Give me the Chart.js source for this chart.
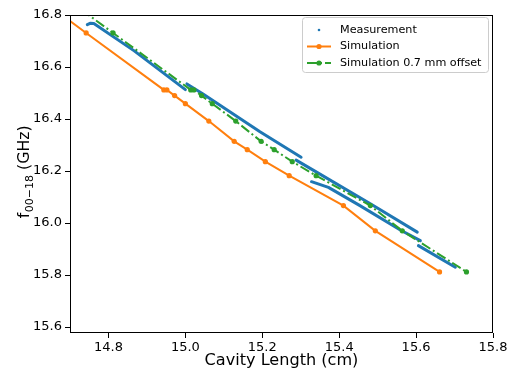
<!DOCTYPE html>
<html>
<head>
<meta charset="utf-8">
<script src="https://cdn.jsdelivr.net/npm/chart.js@4.4.1/dist/chart.umd.min.js"></script>
<style>
html,body{margin:0;padding:0;background:#fff;}
#wrap{width:516px;height:375px;position:relative;}
</style>
</head>
<body>
<div id="wrap"><canvas id="c" width="516" height="375"></canvas></div>
<script>
// ---- data ----
const xTicks = [14.8, 15.0, 15.2, 15.4, 15.6, 15.8];
const yTicks = [15.6, 15.8, 16.0, 16.2, 16.4, 16.6, 16.8];

// Simulation (cm, GHz)
const simX = [14.66, 14.742, 14.944, 14.952, 14.972, 15.000, 15.061, 15.127, 15.161, 15.208, 15.270, 15.411, 15.494, 15.661];
const simY = [16.82, 16.731, 16.512, 16.512, 16.490, 16.459, 16.392, 16.314, 16.282, 16.236, 16.182, 16.067, 15.970, 15.812];

// Simulation with 0.7 mm offset
const offX = [14.73, 14.812, 15.014, 15.022, 15.042, 15.070, 15.131, 15.197, 15.231, 15.278, 15.340, 15.481, 15.564, 15.731];
const offY = [16.82, 16.731, 16.512, 16.512, 16.490, 16.459, 16.392, 16.314, 16.282, 16.236, 16.182, 16.067, 15.970, 15.812];

// Measurement traces (null separates sweeps)
const measX = [14.745, 14.752, 14.762, 14.867, 15.000, null,
               15.004, 15.046, 15.194, 15.301, null,
               15.288, 15.350, 15.480, 15.603, null,
               15.328, 15.372, 15.454, 15.559, 15.611, null,
               15.606, 15.702];
const measY = [16.763, 16.768, 16.767, 16.662, 16.513, null,
               16.535, 16.496, 16.351, 16.253, null,
               16.242, 16.188, 16.075, 15.965, null,
               16.159, 16.137, 16.067, 15.973, 15.932, null,
               15.913, 15.830];

const C_BLUE = '#1f77b4', C_ORANGE = '#ff7f0e', C_GREEN = '#2ca02c';
const FONT = "'DejaVu Sans', sans-serif";
const DASHDOT = [10, 3, 2, 3];

function pts(xs, ys) {
  return xs.map((x, i) => (x === null ? {x: NaN, y: null} : {x: x, y: ys[i]}));
}

const legendItems = [
  {label: 'Measurement', color: C_BLUE, line: false, dash: null, r: 1.3},
  {label: 'Simulation', color: C_ORANGE, line: true, dash: [], r: 2.6},
  {label: 'Simulation 0.7 mm offset', color: C_GREEN, line: true, dash: DASHDOT, r: 2.6}
];

const decor = {
  id: 'decor',
  afterDraw(chart) {
    const ctx = chart.ctx;
    const a = chart.chartArea;
    ctx.save();
    // spines
    ctx.strokeStyle = '#000';
    ctx.lineWidth = 1;
    ctx.setLineDash([]);
    ctx.strokeRect(Math.round(a.left) + 0.5, Math.round(a.top) + 0.5,
                   Math.round(a.right) - Math.round(a.left) - 1, Math.round(a.bottom) - Math.round(a.top) - 1);

    // x title
    ctx.fillStyle = '#000';
    ctx.font = '16.1px ' + FONT;
    ctx.textAlign = 'center';
    ctx.textBaseline = 'alphabetic';
    ctx.fillText('Cavity Length (cm)', (a.left + a.right) / 2, 365);

    // y title with subscript
    ctx.save();
    ctx.translate(29, (a.top + a.bottom) / 2 - 2);
    ctx.rotate(-Math.PI / 2);
    ctx.textAlign = 'left';
    const mainF = '15.8px ' + FONT, subF = '11px ' + FONT;
    ctx.font = mainF; const w1 = ctx.measureText('f').width;
    ctx.font = subF; const w2 = ctx.measureText('00\u221218').width;
    ctx.font = mainF; const w3 = ctx.measureText(' (GHz)').width;
    let x0 = -(w1 + w2 + w3) / 2;
    ctx.font = mainF; ctx.fillText('f', x0, 0);
    ctx.font = subF; ctx.fillText('00\u221218', x0 + w1 + 0.5, 3.6);
    ctx.font = mainF; ctx.fillText(' (GHz)', x0 + w1 + w2 + 0.5, 0);
    ctx.restore();

    // legend
    const bx = 302.5, by = 17.5, bw = 186, bh = 55, rr = 3;
    ctx.beginPath();
    ctx.moveTo(bx + rr, by);
    ctx.lineTo(bx + bw - rr, by); ctx.arcTo(bx + bw, by, bx + bw, by + rr, rr);
    ctx.lineTo(bx + bw, by + bh - rr); ctx.arcTo(bx + bw, by + bh, bx + bw - rr, by + bh, rr);
    ctx.lineTo(bx + rr, by + bh); ctx.arcTo(bx, by + bh, bx, by + bh - rr, rr);
    ctx.lineTo(bx, by + rr); ctx.arcTo(bx, by, bx + rr, by, rr);
    ctx.closePath();
    ctx.fillStyle = 'rgba(255,255,255,0.8)';
    ctx.fill();
    ctx.strokeStyle = '#cccccc';
    ctx.lineWidth = 1;
    ctx.stroke();

    const rowsY = [30, 46.5, 63];
    legendItems.forEach((it, i) => {
      const y = rowsY[i];
      if (it.line) {
        ctx.beginPath();
        ctx.setLineDash(it.dash);
        ctx.strokeStyle = it.color;
        ctx.lineWidth = 2;
        ctx.moveTo(307, y); ctx.lineTo(331, y);
        ctx.stroke();
        ctx.setLineDash([]);
      }
      ctx.beginPath();
      ctx.fillStyle = it.color;
      ctx.arc(319, y, it.r, 0, Math.PI * 2);
      ctx.fill();
      ctx.fillStyle = '#000';
      ctx.font = '11.2px ' + FONT;
      ctx.textAlign = 'left';
      ctx.textBaseline = 'middle';
      ctx.fillText(it.label, 340, y);
    });
    ctx.restore();
  }
};

new Chart(document.getElementById('c'), {
  type: 'line',
  data: {
    datasets: [
      {
        label: 'Simulation 0.7 mm offset',
        data: pts(offX, offY),
        borderColor: C_GREEN, backgroundColor: C_GREEN,
        borderWidth: 2, borderDash: DASHDOT,
        pointRadius: 2.6, pointHoverRadius: 2.6, pointBorderWidth: 0,
        tension: 0, order: 0, clip: 0
      },
      {
        label: 'Simulation',
        data: pts(simX, simY),
        borderColor: C_ORANGE, backgroundColor: C_ORANGE,
        borderWidth: 2,
        pointRadius: 2.6, pointHoverRadius: 2.6, pointBorderWidth: 0,
        tension: 0, order: 1, clip: 0
      },
      {
        label: 'Measurement',
        data: pts(measX, measY),
        borderColor: C_BLUE, backgroundColor: C_BLUE,
        borderWidth: 3, borderCapStyle: 'round', borderJoinStyle: 'round',
        pointRadius: 0, spanGaps: false,
        tension: 0, order: 2, clip: 0
      }
    ]
  },
  options: {
    responsive: false,
    animation: false,
    events: [],
    layout: {padding: {top: 15, right: 23, left: 0, bottom: 0}},
    plugins: {legend: {display: false}, tooltip: {enabled: false}},
    scales: {
      x: {
        type: 'linear', min: 14.7, max: 15.8,
        afterFit(s) { s.height = 42; },
        afterBuildTicks(s) { s.ticks = xTicks.map(v => ({value: v})); },
        grid: {drawOnChartArea: false, drawTicks: true, tickLength: 5, tickColor: '#000', tickWidth: 1},
        border: {display: false},
        ticks: {color: '#000', font: {family: FONT, size: 13}, padding: 2, maxRotation: 0,
                callback: v => v.toFixed(1)}
      },
      y: {
        type: 'linear', min: 15.577, max: 16.8,
        afterFit(s) { s.width = 70; },
        afterBuildTicks(s) { s.ticks = yTicks.map(v => ({value: v})); },
        grid: {drawOnChartArea: false, drawTicks: true, tickLength: 5, tickColor: '#000', tickWidth: 1},
        border: {display: false},
        ticks: {color: '#000', font: {family: FONT, size: 13}, padding: 3,
                callback: v => v.toFixed(1)}
      }
    }
  },
  plugins: [decor]
});
</script>
</body>
</html>
